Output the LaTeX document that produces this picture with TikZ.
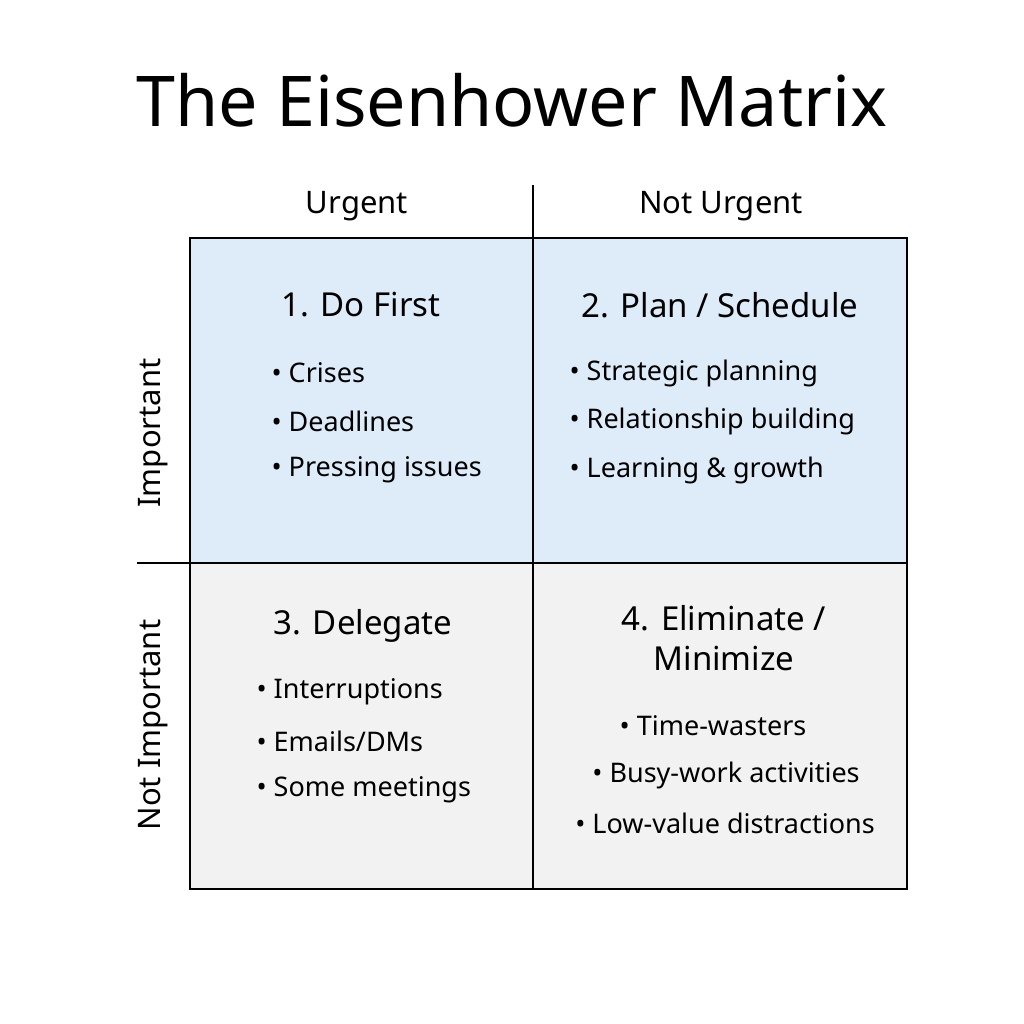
\documentclass[tikz,border=0pt]{standalone}
\usepackage{fontspec}
\setmainfont{Noto Sans}
\begin{document}
\begin{tikzpicture}[x=1pt,y=-1pt,
  hdr/.style={font=\fontsize{31}{36}\selectfont},
  ttl/.style={font=\fontsize{33}{40}\selectfont\bfseries},
  itm/.style={font=\fontsize{27}{32}\selectfont,anchor=west},
  ln/.style={line width=2.5pt}]
\useasboundingbox (0,0) rectangle (1024,1024);
\fill[white] (0,0) rectangle (1024,1024);
\definecolor{qblue}{RGB}{222,236,249}
\definecolor{qgray}{RGB}{242,242,242}
\fill[qblue] (190,238) rectangle (907,563);
\fill[qgray] (190,563) rectangle (907,889);
\draw[ln] (190,238) rectangle (907,889);
\draw[ln] (533,185) -- (533,889);
\draw[ln] (137,563) -- (907,563);
\node[font=\fontsize{70}{80}\selectfont\bfseries] (title) at (512,100) {The Eisenhower Matrix};
\node[hdr] (u) at (357,206) {Urgent};
\node[hdr] (nu) at (721,206) {Not Urgent};
\node[hdr,rotate=90] (imp) at (153,433) {Important};
\node[hdr,rotate=90] (nimp) at (153,725) {Not Important};
\node[ttl] (q1) at (361,305) {1. Do First};
\node[ttl] (q2) at (720,305) {2. Plan / Schedule};
\node[ttl] (q3) at (363,626) {3. Delegate};
\node[ttl,align=center] (q4) at (724,638) {4. Eliminate /\\Minimize};
\node[itm] (a1) at (268,373) {• Crises};
\node[itm] (a2) at (268,421) {• Deadlines};
\node[itm] (a3) at (268,470) {• Pressing issues};
\node[itm] (b1) at (566,373) {• Strategic planning};
\node[itm] (b2) at (566,421) {• Relationship building};
\node[itm] (b3) at (566,470) {• Learning \& growth};
\node[itm] (c1) at (253,692) {• Interruptions};
\node[itm] (c2) at (253,741) {• Emails/DMs};
\node[itm] (c3) at (253,790) {• Some meetings};
\node[itm,anchor=center] (d1) at (713,726) {• Time-wasters};
\node[itm,anchor=center] (d2) at (726,775) {• Busy-work activities};
\node[itm,anchor=center] (d3) at (725,823) {• Low-value distractions};
\end{tikzpicture}
\end{document}
